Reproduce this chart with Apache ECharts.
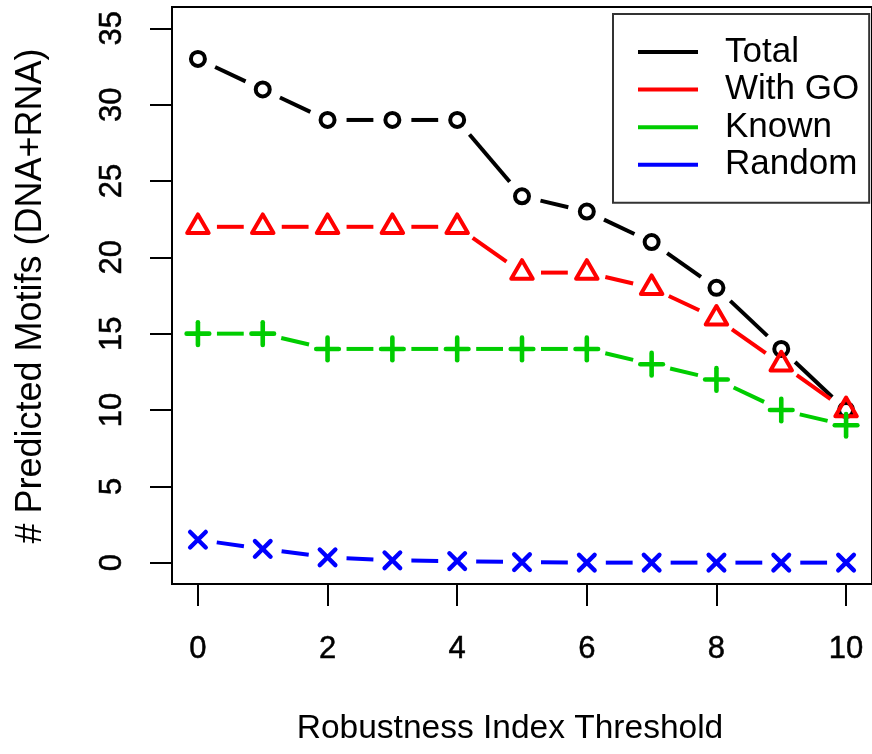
<!DOCTYPE html>
<html>
<head>
<meta charset="utf-8">
<script src="https://cdn.jsdelivr.net/npm/echarts@6/dist/echarts.min.js"></script>
<style>
  html, body { margin: 0; padding: 0; background: #fff; }
  #chart { width: 872px; height: 754px; }
</style>
</head>
<body>
<div id="chart"></div>
<script>
// ---- data ----
const thresholds = [0, 1, 2, 3, 4, 5, 6, 7, 8, 9, 10];
const total   = [33, 31, 29, 29, 29, 24, 23, 21, 18, 14, 10];
const withGO  = [22, 22, 22, 22, 22, 19, 19, 18, 16, 13, 10];
const known   = [15, 15, 14, 14, 14, 14, 14, 13, 12, 10, 9];
const random  = [1.5, 0.9, 0.35, 0.15, 0.1, 0.03, 0, 0, 0, 0, 0];
const xTicks  = [0, 2, 4, 6, 8, 10];
const yTicks  = [0, 5, 10, 15, 20, 25, 30, 35];
const seriesNames = ['Total', 'With GO', 'Known', 'Random'];

const FONT = '"Liberation Sans", Arial, Helvetica, sans-serif';
const GAP = 19;
const LW = 4;

function marker(shape, p, color) {
  const x = p[0], y = p[1];
  const st = { stroke: color, lineWidth: LW, fill: null, lineCap: 'round', lineJoin: 'round' };
  if (shape === 'circle') {
    return { type: 'circle', shape: { cx: x, cy: y, r: 7.0 }, style: st };
  }
  if (shape === 'triangle') {
    const r = 12.4, xc = r * Math.sqrt(3) / 2;
    return { type: 'polygon', shape: { points: [[x, y - r], [x + xc, y + r / 2], [x - xc, y + r / 2]] }, style: st };
  }
  if (shape === 'plus') {
    const h = 11.3;
    return { type: 'group', children: [
      { type: 'line', shape: { x1: x - h, y1: y, x2: x + h, y2: y }, style: Object.assign({}, st, { lineWidth: 4.6 }) },
      { type: 'line', shape: { x1: x, y1: y - h, x2: x, y2: y + h }, style: Object.assign({}, st, { lineWidth: 4.6 }) }
    ] };
  }
  // cross
  const d = 7.8;
  return { type: 'group', children: [
    { type: 'line', shape: { x1: x - d, y1: y - d, x2: x + d, y2: y + d }, style: Object.assign({}, st, { lineWidth: 4.4 }) },
    { type: 'line', shape: { x1: x - d, y1: y + d, x2: x + d, y2: y - d }, style: Object.assign({}, st, { lineWidth: 4.4 }) }
  ] };
}

function makeSeries(name, values, shape, color) {
  return {
    name: name,
    type: 'custom',
    clip: false,
    itemStyle: { color: color },
    data: thresholds.map((t, i) => [t, values[i]]),
    encode: { x: 0, y: 1 },
    renderItem: function (params, api) {
      const i = params.dataIndex;
      const p = api.coord([thresholds[i], values[i]]);
      const children = [];
      if (i < values.length - 1) {
        const q = api.coord([thresholds[i + 1], values[i + 1]]);
        const dx = q[0] - p[0], dy = q[1] - p[1];
        const len = Math.hypot(dx, dy);
        if (len > 2 * GAP) {
          const ux = dx / len, uy = dy / len;
          children.push({
            type: 'line',
            shape: { x1: p[0] + ux * GAP, y1: p[1] + uy * GAP, x2: q[0] - ux * GAP, y2: q[1] - uy * GAP },
            style: { stroke: color, lineWidth: LW, lineCap: 'butt' }
          });
        }
      }
      children.push(marker(shape, p, color));
      return { type: 'group', children: children };
    }
  };
}

const colors = ['#000000', '#ff0000', '#00cd00', '#0000ff'];
const chart = echarts.init(document.getElementById('chart'), null, { renderer: 'canvas' });

const labelStyle = { fontSize: 31, color: '#000', fontFamily: FONT, textBorderColor: '#000', textBorderWidth: 0.5 };

chart.setOption({
  animation: false,
  backgroundColor: '#ffffff',
  grid: {
    left: 172, right: -1, top: 7, bottom: 170,
    show: true, borderColor: '#000', borderWidth: 2, backgroundColor: 'transparent'
  },
  xAxis: {
    type: 'value', min: -0.4, max: 10.4,
    axisLine: { show: false, onZero: false },
    splitLine: { show: false },
    axisTick: { show: true, customValues: xTicks, length: 22, lineStyle: { color: '#000', width: 2 } },
    axisLabel: Object.assign({ customValues: xTicks, margin: 50 }, labelStyle)
  },
  yAxis: {
    type: 'value', min: -1.4, max: 36.4,
    axisLine: { show: false, onZero: false },
    splitLine: { show: false },
    axisTick: { show: true, customValues: yTicks, length: 22, lineStyle: { color: '#000', width: 2 } },
    axisLabel: Object.assign({ customValues: yTicks, rotate: 90, margin: 44 }, labelStyle)
  },
  legend: {
    orient: 'vertical',
    left: 613, top: 14,
    padding: [20.5, 10, 20.5, 25],
    itemGap: 2.6,
    itemWidth: 60, itemHeight: 4,
    icon: 'rect',
    borderColor: '#333', borderWidth: 2,
    backgroundColor: '#fff',
    selectedMode: false,
    textStyle: { fontSize: 35, lineHeight: 35, color: '#000', fontFamily: FONT, padding: [0, 0, 0, 22] },
    data: seriesNames.map((n, i) => ({ name: n, itemStyle: { color: colors[i] } }))
  },
  graphic: [
    {
      type: 'text', x: 510, y: 729,
      style: { text: 'Robustness Index Threshold', font: '33.5px ' + FONT, fill: '#000', align: 'center', verticalAlign: 'middle' }
    },
    {
      type: 'text', x: 31, y: 296, rotation: Math.PI / 2,
      style: { text: '# Predicted Motifs (DNA+RNA)', font: '36px ' + FONT, fill: '#000', align: 'center', verticalAlign: 'middle' }
    }
  ],
  series: [
    makeSeries(seriesNames[0], total, 'circle', colors[0]),
    makeSeries(seriesNames[1], withGO, 'triangle', colors[1]),
    makeSeries(seriesNames[2], known, 'plus', colors[2]),
    makeSeries(seriesNames[3], random, 'cross', colors[3])
  ]
});
</script>
</body>
</html>
